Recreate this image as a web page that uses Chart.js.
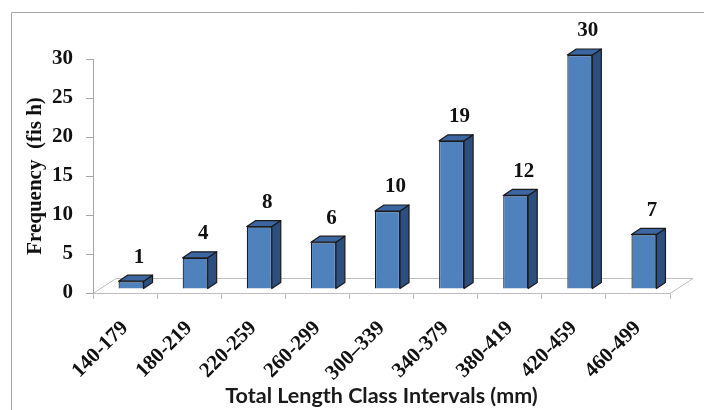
<!DOCTYPE html>
<html>
<head>
<meta charset="utf-8">
<script src="https://cdn.jsdelivr.net/npm/chart.js@4.4.1/dist/chart.umd.min.js"></script>
<style>
  html, body { margin: 0; padding: 0; background: #ffffff; }
  #wrap { position: relative; width: 704px; height: 410px; }
</style>
</head>
<body>
<div id="wrap"><canvas id="c" width="704" height="410"></canvas></div>
<script>
// Class intervals (mm) and number of fish in each
const classIntervals = ['140-179', '180-219', '220-259', '260-299', '300\u2013339', '340-379', '380-419', '420-459', '460-499'];
const frequencies = [1, 4, 8, 6, 10, 19, 12, 30, 7];
const yTicks = [0, 5, 10, 15, 20, 25, 30];

const SERIF = '"Liberation Serif", "Times New Roman", serif';

// 3D look: floor depth, bar depth and where bars stand on the floor
const FLOOR_DX = 23, FLOOR_DY = 15;
const BAR_DX = 9, BAR_DY = 6;
const SHIFT_X = 6, SHIFT_Y = -4;

const frame = {
  id: 'frame',
  beforeDraw(chart) {
    const ctx = chart.ctx;
    ctx.save();
    ctx.strokeStyle = '#a6a6a6';
    ctx.lineWidth = 1;
    ctx.beginPath();
    ctx.moveTo(11.5, 420);
    ctx.lineTo(11.5, 12.5);
    ctx.lineTo(720, 12.5);
    ctx.stroke();
    ctx.restore();
  }
};

const bar3d = {
  id: 'bar3d',
  beforeDatasetsDraw(chart) {
    const ctx = chart.ctx, a = chart.chartArea;
    // floor
    ctx.save();
    ctx.strokeStyle = '#bfbfbf';
    ctx.lineWidth = 1;
    ctx.beginPath();
    ctx.moveTo(a.left, a.bottom + 0.5);
    ctx.lineTo(a.left + FLOOR_DX, a.bottom - FLOOR_DY + 0.5);
    ctx.lineTo(a.right + FLOOR_DX, a.bottom - FLOOR_DY + 0.5);
    ctx.lineTo(a.right, a.bottom + 0.5);
    ctx.stroke();
    ctx.restore();
    ctx.save();
    ctx.translate(SHIFT_X, SHIFT_Y);
  },
  afterDatasetsDraw(chart) {
    const ctx = chart.ctx;
    const meta = chart.getDatasetMeta(0);
    ctx.lineWidth = 1.2;
    ctx.strokeStyle = '#1a1a1a';
    ctx.lineJoin = 'round';
    meta.data.forEach((el, i) => {
      const l = el.x - el.width / 2, r = el.x + el.width / 2;
      const top = el.y, base = el.base;
      // right side
      ctx.fillStyle = '#2d4f80';
      ctx.beginPath();
      ctx.moveTo(r, top);
      ctx.lineTo(r + BAR_DX, top - BAR_DY);
      ctx.lineTo(r + BAR_DX, base - BAR_DY);
      ctx.lineTo(r, base);
      ctx.closePath();
      ctx.fill();
      ctx.stroke();
      // top
      ctx.fillStyle = '#3c66a2';
      ctx.beginPath();
      ctx.moveTo(l, top);
      ctx.lineTo(l + BAR_DX, top - BAR_DY);
      ctx.lineTo(r + BAR_DX, top - BAR_DY);
      ctx.lineTo(r, top);
      ctx.closePath();
      ctx.fill();
      ctx.stroke();
      // value label
      ctx.fillStyle = '#111111';
      ctx.font = 'bold 21px ' + SERIF;
      ctx.textAlign = 'center';
      ctx.textBaseline = 'middle';
      ctx.fillText(String(frequencies[i]), el.x + 8, top - 24);
    });
    ctx.restore();
  }
};

new Chart(document.getElementById('c'), {
  type: 'bar',
  data: {
    labels: classIntervals,
    datasets: [{
      data: frequencies,
      backgroundColor: '#4f81bd',
      borderColor: '#1a1a1a',
      borderWidth: 1.2,
      barPercentage: 0.39,
      categoryPercentage: 1.0
    }]
  },
  options: {
    responsive: false,
    animation: false,
    events: [],
    layout: { padding: { left: 12, top: 59, right: 34, bottom: 0 } },
    plugins: { legend: { display: false }, tooltip: { enabled: false } },
    scales: {
      x: {
        grid: { display: true, drawOnChartArea: false, color: '#bfbfbf', tickLength: 6 },
        border: { display: true, color: '#bfbfbf' },
        ticks: {
          color: '#111111',
          font: { family: SERIF, size: 21, weight: 'bold' },
          minRotation: 45, maxRotation: 45, padding: 17
        },
        title: {
          display: true,
          text: 'Total Length Class Intervals (mm)',
          color: '#1a1a1a',
          font: { family: 'Lato, "Open Sans", sans-serif', size: 21.5, weight: 'bold' },
          padding: { top: 0, bottom: 1 }
        },
        afterFit(scale) { scale.height = 117; }
      },
      y: {
        min: 0, max: 30,
        afterBuildTicks(scale) { scale.ticks = yTicks.map(v => ({ value: v })); },
        grid: { display: true, drawOnChartArea: false, color: '#a6a6a6', tickLength: 7 },
        border: { display: true, color: '#a6a6a6' },
        ticks: {
          color: '#111111',
          font: { family: SERIF, size: 21, weight: 'bold' },
          padding: 13
        },
        title: {
          display: true,
          text: 'Frequency  (fis h)',
          color: '#111111',
          font: { family: SERIF, size: 21, weight: 'bold' },
          padding: { top: 11, bottom: 0 }
        },
        afterFit(scale) { scale.width = 81; }
      }
    }
  },
  plugins: [frame, bar3d]
});
</script>
</body>
</html>
